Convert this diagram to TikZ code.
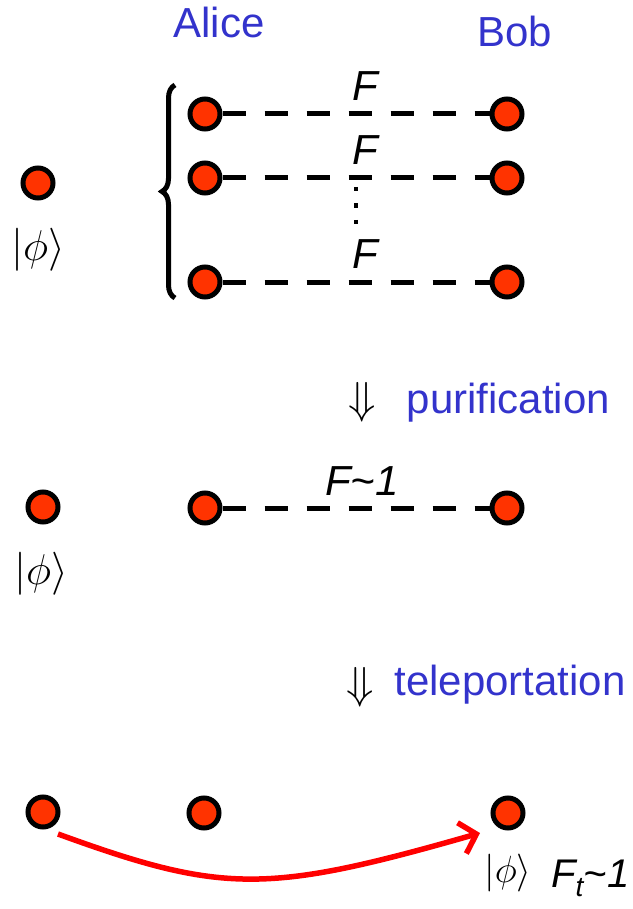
\documentclass[tikz,border=0pt]{standalone}
\usepackage{fontspec}
\setmainfont{Liberation Sans}
\usetikzlibrary{arrows.meta,decorations.pathreplacing}
\definecolor{dotred}{RGB}{255,51,0}
\definecolor{labblue}{RGB}{51,51,204}
\tikzset{
  qdot/.style={circle,draw=black,fill=dotred,line width=5pt,minimum size=30pt,inner sep=0pt},
  dashline/.style={line width=5pt,dash pattern=on 23pt off 19pt},
  bluelab/.style={text=labblue,font=\fontsize{42}{50}\selectfont,inner sep=0pt,anchor=base},
  flab/.style={font=\fontsize{42}{50}\selectfont\itshape,inner sep=0pt,anchor=base},
  ketlab/.style={font=\fontsize{24.88}{30}\selectfont,inner sep=0pt,scale=1.73},
  darrow/.style={font=\fontsize{24.88}{30}\selectfont,inner sep=0pt,scale=1.8},
  telearrow/.style={draw=red,line width=5.5pt,-{Straight Barb[length=15pt,width=32pt]}}
}
\begin{document}
\begin{tikzpicture}[x=1pt,y=-1pt]
\useasboundingbox (0,0) rectangle (632,909);
% headers
\node[bluelab] (alice) at (219,38) {Alice};
\node[bluelab] (bob) at (514.5,47) {Bob};
% row 1
\node[qdot] (p1) at (38,183) {};
\node[ketlab] (k1) at (38,250) {$|\phi\rangle$};
\node[qdot] (a1) at (205,114) {};
\node[qdot] (a2) at (205,178) {};
\node[qdot] (a3) at (205,282) {};
\node[qdot] (b1) at (507,114) {};
\node[qdot] (b2) at (507,178) {};
\node[qdot] (b3) at (507,282) {};
\draw[dashline] (a1) -- (b1);
\draw[dashline] (a2) -- (b2);
\draw[dashline] (a3) -- (b3);
\node[flab] (f1) at (365,101) {F};
\node[flab] (f2) at (365,165) {F};
\node[flab] (f3) at (365,268) {F};
\draw[line width=4.5pt,dash pattern=on 4.5pt off 12pt] (356,187) -- (356,226);
\draw[line width=5pt,decorate,decoration={brace,amplitude=13pt}] (175,298) -- (175,85);
% purification
\node[darrow] (d1) at (362,402) {$\Downarrow$};
\node[bluelab] (pur) at (508.5,413) {purification};
% row 2
\node[qdot] (p2) at (43,507) {};
\node[ketlab] (k2) at (41,574) {$|\phi\rangle$};
\node[qdot] (a4) at (205,508) {};
\node[qdot] (b4) at (507,508) {};
\draw[dashline] (a4) -- (b4);
\node[flab] (f4) at (362,495) {F\textasciitilde 1};
% teleportation
\node[darrow] (d2) at (360,687) {$\Downarrow$};
\node[bluelab] (tel) at (510,695) {teleportation};
% row 3
\node[qdot] (p3) at (43,812) {};
\node[qdot] (a5) at (204,813) {};
\node[qdot] (b5) at (508,813) {};
\node[ketlab,scale=0.88] (k3) at (508,873) {$|\phi\rangle$};
\node[flab,anchor=base west,font=\fontsize{40}{48}\selectfont\itshape] (ft) at (551,887) {F\textsubscript{t}\textasciitilde 1};
\coordinate (arrS) at (58,834);
\coordinate (arrE) at (480,833);
\draw[telearrow] (arrS) .. controls (223,894) and (267,894) .. (arrE);
\end{tikzpicture}
\end{document}
